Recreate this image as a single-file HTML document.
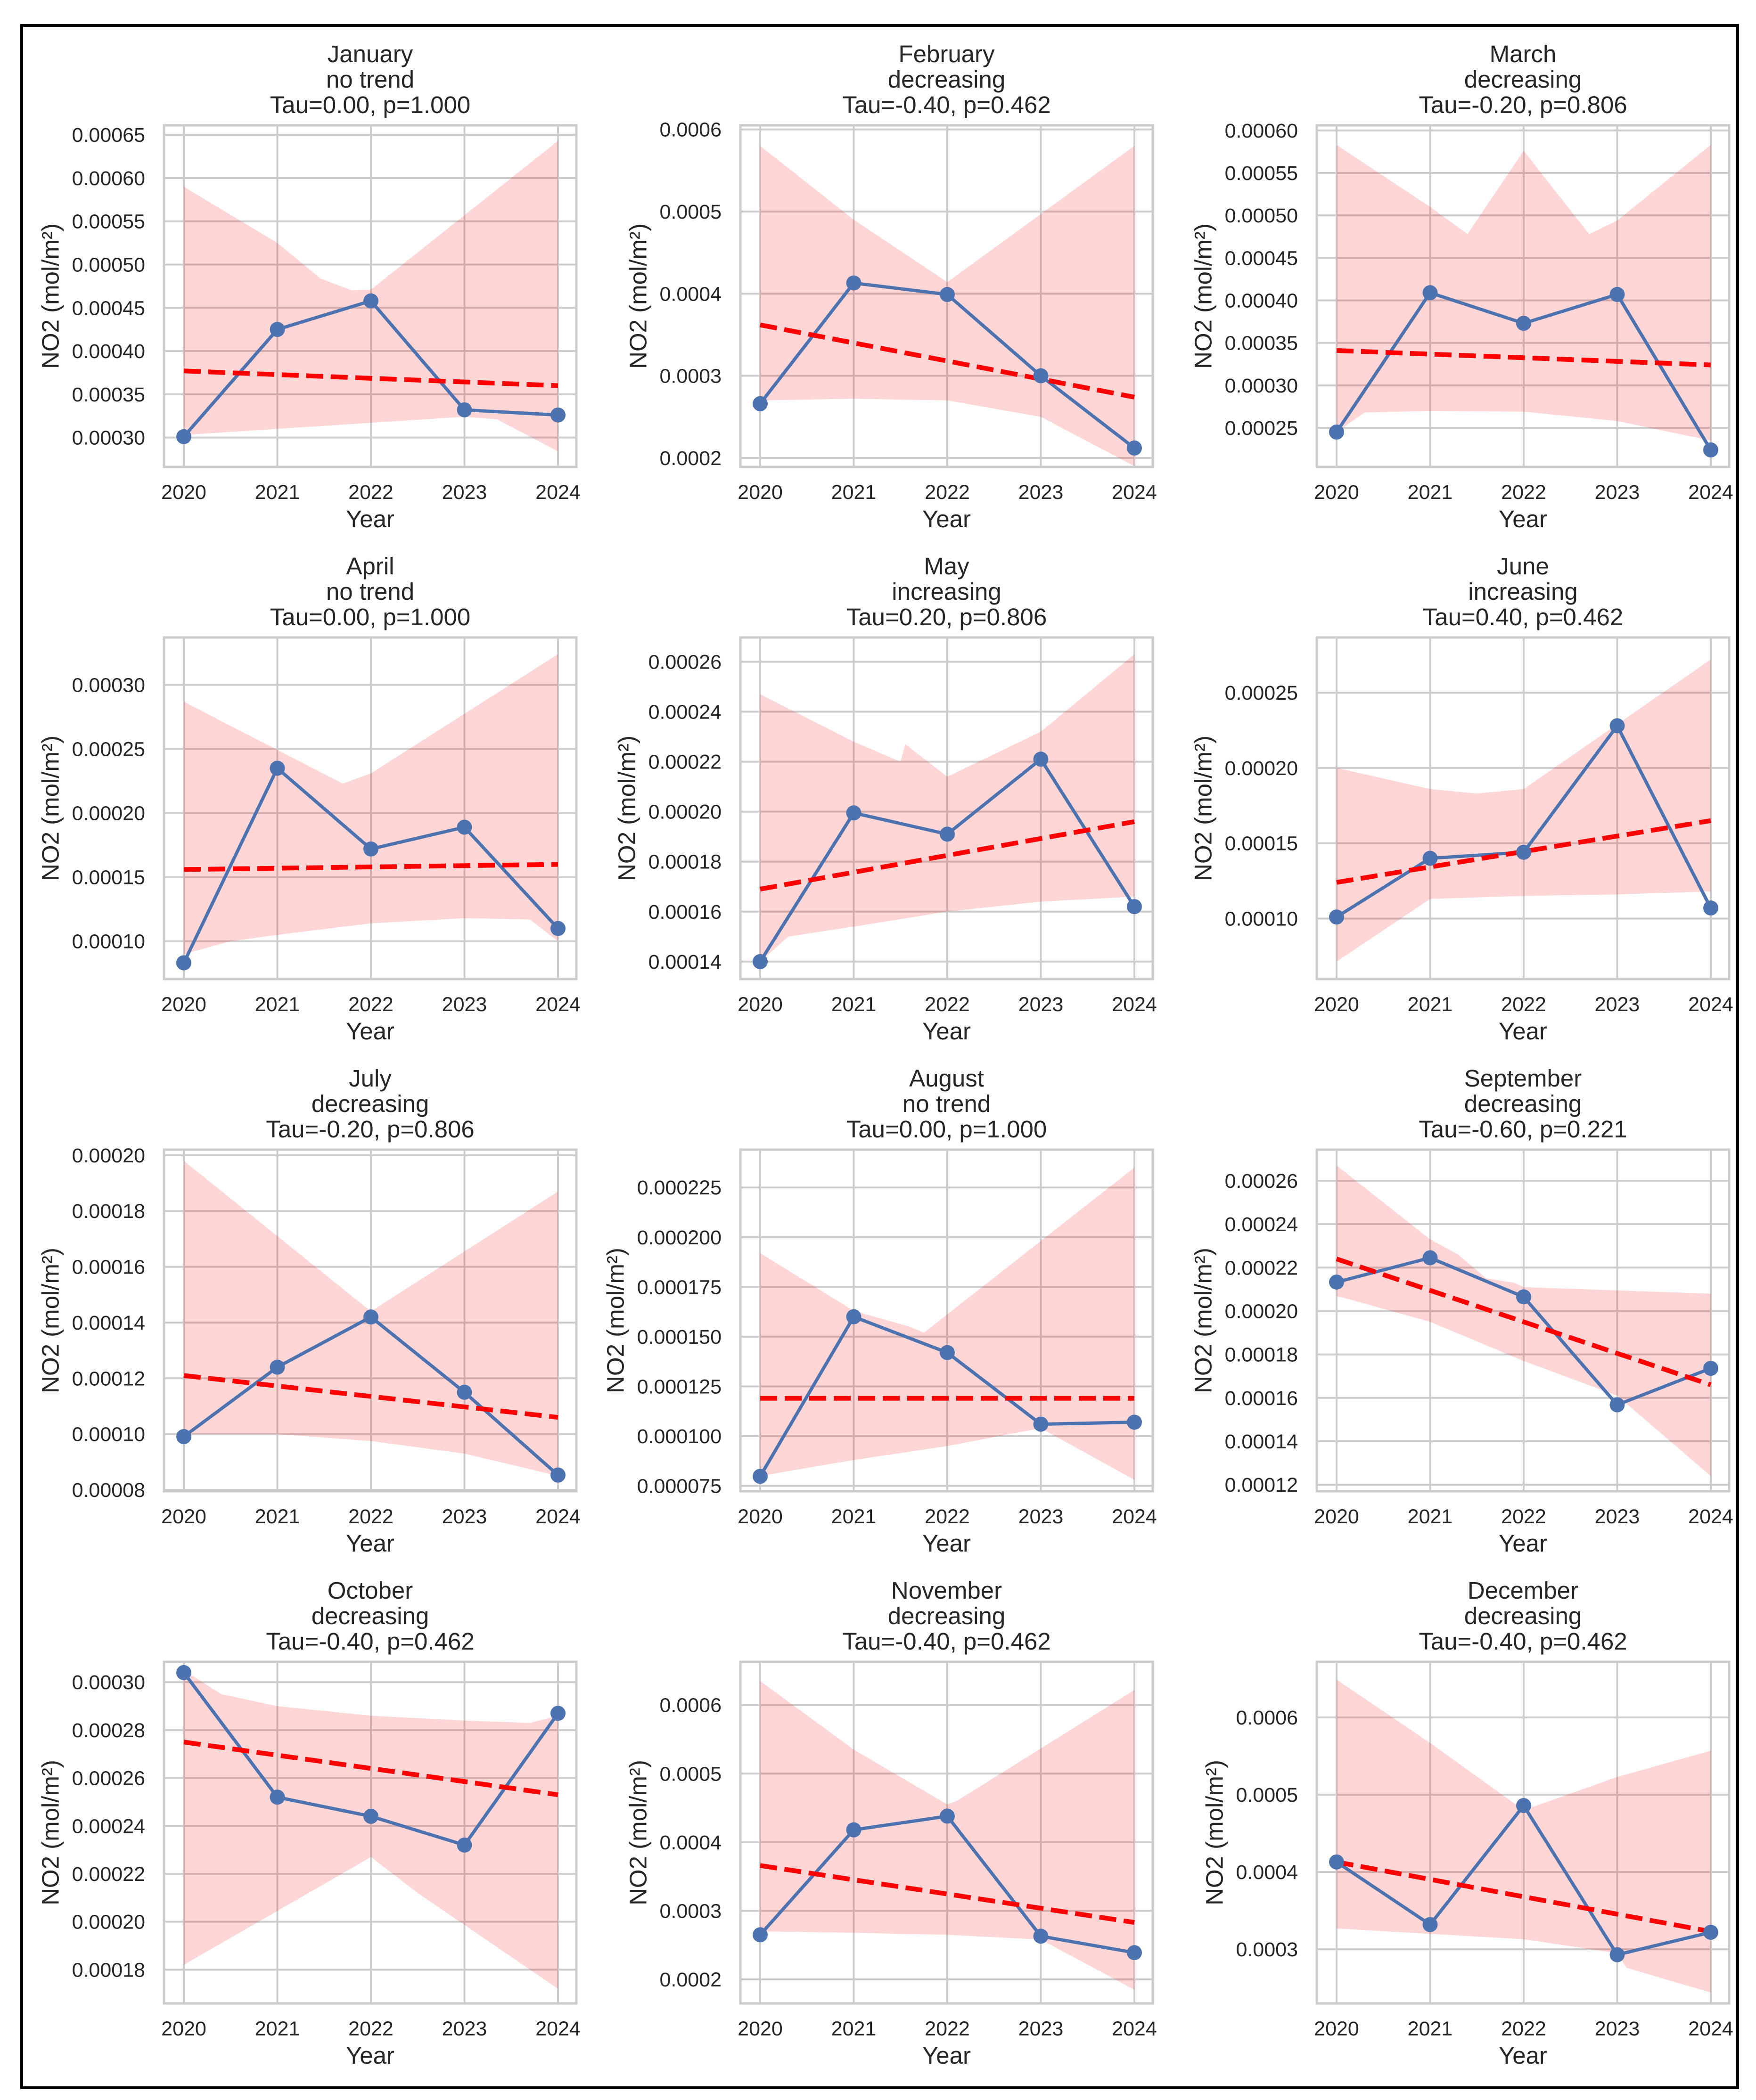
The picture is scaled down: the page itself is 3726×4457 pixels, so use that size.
<!DOCTYPE html>
<html><head><meta charset="utf-8">
<style>
html,body{margin:0;padding:0;background:#fff;}
svg{display:block;font-family:"Liberation Sans",Arial,sans-serif;}
</style></head>
<body>
<svg id="fig" width="3726" height="4457" viewBox="0 0 3726 4457" xmlns="http://www.w3.org/2000/svg">
<rect x="0" y="0" width="3726" height="4457" fill="#fff"/>
<rect x="46" y="54" width="3641" height="4377" fill="none" stroke="#000" stroke-width="6"/>
</svg>
<script>
const years = [2020, 2021, 2022, 2023, 2024];
const months = ["January","February","March","April","May","June","July","August","September","October","November","December"];
const trends = ["no trend","decreasing","decreasing","no trend","increasing","increasing","decreasing","no trend","decreasing","decreasing","decreasing","decreasing"];
const stats = ["Tau=0.00, p=1.000","Tau=-0.40, p=0.462","Tau=-0.20, p=0.806","Tau=0.00, p=1.000","Tau=0.20, p=0.806","Tau=0.40, p=0.462","Tau=-0.20, p=0.806","Tau=0.00, p=1.000","Tau=-0.60, p=0.221","Tau=-0.40, p=0.462","Tau=-0.40, p=0.462","Tau=-0.40, p=0.462"];
const yMin = [0.000266,0.000189,0.000204,0.0000705,0.000133,0.0000598,0.0000795,0.0000723,0.000117,0.0001659,0.000165,0.000230];
const yMax = [0.000661,0.000605,0.000606,0.000337,0.0002697,0.0002866,0.000202,0.000244,0.0002743,0.0003085,0.000663,0.000672];
const yTicks = [
 [0.00030,0.00035,0.00040,0.00045,0.00050,0.00055,0.00060,0.00065],
 [0.0002,0.0003,0.0004,0.0005,0.0006],
 [0.00025,0.00030,0.00035,0.00040,0.00045,0.00050,0.00055,0.00060],
 [0.00010,0.00015,0.00020,0.00025,0.00030],
 [0.00014,0.00016,0.00018,0.00020,0.00022,0.00024,0.00026],
 [0.00010,0.00015,0.00020,0.00025],
 [0.00008,0.00010,0.00012,0.00014,0.00016,0.00018,0.00020],
 [0.000075,0.000100,0.000125,0.000150,0.000175,0.000200,0.000225],
 [0.00012,0.00014,0.00016,0.00018,0.00020,0.00022,0.00024,0.00026],
 [0.00018,0.00020,0.00022,0.00024,0.00026,0.00028,0.00030],
 [0.0002,0.0003,0.0004,0.0005,0.0006],
 [0.0003,0.0004,0.0005,0.0006]
];
const tickDecimals = [5,4,5,5,5,5,5,6,5,5,4,4];
const no2Values = [
 [0.000301,0.000425,0.000458,0.000332,0.000326],
 [0.000266,0.000413,0.000399,0.000300,0.000212],
 [0.000245,0.000409,0.000373,0.000407,0.000224],
 [0.0000832,0.000235,0.000172,0.000189,0.000110],
 [0.000140,0.0001995,0.000191,0.000221,0.000162],
 [0.000101,0.000140,0.000144,0.000228,0.000107],
 [0.0000991,0.000124,0.000142,0.000115,0.0000853],
 [0.0000798,0.000160,0.000142,0.000106,0.000107],
 [0.0002133,0.0002245,0.0002065,0.0001568,0.0001736],
 [0.000304,0.000252,0.000244,0.000232,0.000287],
 [0.000265,0.000418,0.000438,0.000263,0.000239],
 [0.000413,0.000332,0.000486,0.000293,0.000322]
];
const trendStart = [0.000377,0.000362,0.000341,0.000156,0.000169,0.000124,0.000121,0.000119,0.000224,0.000275,0.000366,0.000413];
const trendEnd   = [0.000360,0.000274,0.000324,0.000160,0.000196,0.000165,0.000106,0.000119,0.000166,0.000253,0.000283,0.000323];
const bandUpperX = [
 [2020,2021,2021.46,2021.8,2022,2024],
 [2020,2021,2022,2024],
 [2020,2021,2021.4,2022,2022.7,2023,2024],
 [2020,2020.5,2021.7,2022,2024],
 [2020,2021,2021.5,2021.55,2022,2023,2024],
 [2020,2021,2021.5,2022,2024],
 [2020,2022,2024],
 [2020,2021,2021.6,2021.75,2024],
 [2020,2021,2021.3,2021.6,2021.9,2022,2024],
 [2020,2020.4,2021,2022,2023,2023.7,2024],
 [2020,2021,2022,2022.1,2024],
 [2020,2021,2022,2023,2024]
];
const bandUpper = [
 [0.000590,0.000525,0.000484,0.000470,0.000471,0.000643],
 [0.000580,0.000490,0.000414,0.000580],
 [0.000583,0.000510,0.000478,0.000576,0.000478,0.000494,0.000583],
 [0.000287,0.000268,0.000223,0.000231,0.000324],
 [0.000247,0.000228,0.000220,0.000227,0.000214,0.000232,0.000263],
 [0.000200,0.000186,0.000183,0.000186,0.000272],
 [0.000198,0.000144,0.000187],
 [0.000192,0.000163,0.000155,0.000152,0.000235],
 [0.000267,0.000233,0.000226,0.000215,0.000213,0.000211,0.000208],
 [0.000305,0.000295,0.000290,0.000286,0.000284,0.000283,0.000286],
 [0.000635,0.000535,0.000455,0.000460,0.000622],
 [0.000649,0.000567,0.000480,0.000523,0.000557]
];
const bandLowerX = [
 [2020,2022,2023,2023.35,2024],
 [2020,2021,2022,2023,2024],
 [2020,2020.3,2021,2022,2023,2024],
 [2020,2020.5,2021,2022,2023,2023.7,2024],
 [2020,2020.3,2021,2022,2023,2024],
 [2020,2021,2022,2023,2024],
 [2020,2021,2022,2023,2024],
 [2020,2021,2022,2023,2024],
 [2020,2021,2022,2023,2024],
 [2020,2022,2022.5,2024],
 [2020,2021,2022,2023,2024],
 [2020,2021,2022,2023,2023.1,2024]
];
const bandLower = [
 [0.000303,0.000317,0.000324,0.000321,0.000284],
 [0.000270,0.000272,0.000270,0.000250,0.000190],
 [0.000245,0.000268,0.000270,0.000269,0.000258,0.000235],
 [0.000090,0.000100,0.000105,0.000114,0.000118,0.000117,0.000100],
 [0.000140,0.000150,0.000154,0.000160,0.000164,0.000166],
 [0.0000714,0.000113,0.000115,0.000116,0.000118],
 [0.000100,0.000100,0.0000975,0.000093,0.000085],
 [0.000080,0.000088,0.000095,0.000104,0.000078],
 [0.000207,0.000195,0.000177,0.000161,0.000124],
 [0.000182,0.000227,0.000212,0.000172],
 [0.000270,0.000268,0.000265,0.000258,0.000185],
 [0.000327,0.000320,0.000313,0.000295,0.000276,0.000244]
];

const NS = "http://www.w3.org/2000/svg";
const svg = document.getElementById("fig");
function mk(tag, attrs, parent){
  const e = document.createElementNS(NS, tag);
  for (const k in attrs) e.setAttribute(k, attrs[k]);
  (parent||svg).appendChild(e);
  return e;
}
const X0 = 390, COLSTEP = 1223, YEARW = 198.5, TOP0 = 266, ROWSTEP = 1087, AXH = 725, AXW = 875;

for (let i = 0; i < 12; i++) {
  const c = i % 3, r = Math.floor(i / 3);
  const x2020 = X0 + c * COLSTEP;
  const left = x2020 - 42, top = TOP0 + r * ROWSTEP;
  const xs = yr => x2020 + (yr - 2020) * YEARW;
  const ys = v => top + AXH - (v - yMin[i]) / (yMax[i] - yMin[i]) * AXH;
  const g = mk("g", {});
  
  

  yTicks[i].forEach(t => {
    const l = mk("line", {x1:left, x2:left+AXW, y1:ys(t), y2:ys(t), stroke:"#cccccc", "stroke-width":4}, g);
    
    
  });
  years.forEach(y => {
    const l = mk("line", {x1:xs(y), x2:xs(y), y1:top, y2:top+AXH, stroke:"#cccccc", "stroke-width":4}, g);
    
    
  });

  let pts = [];
  bandUpperX[i].forEach((x, k) => pts.push(xs(x).toFixed(1) + "," + ys(bandUpper[i][k]).toFixed(1)));
  for (let k = bandLowerX[i].length - 1; k >= 0; k--) pts.push(xs(bandLowerX[i][k]).toFixed(1) + "," + ys(bandLower[i][k]).toFixed(1));
  const band = mk("polygon", {points: pts.join(" "), fill:"#ff0000", "fill-opacity":0.16}, g);
  
  

  const sp = mk("rect", {x:left, y:top, width:AXW, height:AXH, fill:"none", stroke:"#cccccc", "stroke-width":5}, g);
  
  

  const lp = years.map((y, k) => xs(y).toFixed(1) + "," + ys(no2Values[i][k]).toFixed(1)).join(" ");
  const pl = mk("polyline", {points: lp, fill:"none", stroke:"#4c72b0", "stroke-width":7, "stroke-linejoin":"round"}, g);
  
  

  const tl = mk("line", {x1:xs(2020), y1:ys(trendStart[i]), x2:xs(2024), y2:ys(trendEnd[i]), stroke:"#ff0000", "stroke-width":10, "stroke-dasharray":"36 16"}, g);
  
  

  years.forEach((y, k) => {
    const m = mk("circle", {cx:xs(y), cy:ys(no2Values[i][k]), r:16, fill:"#4c72b0"}, g);
    
    
  });

  let maxW = 0;
  yTicks[i].forEach(t => {
    const tx = mk("text", {x:left-40, y:ys(t)+15, "text-anchor":"end", "font-size":43, fill:"#262626"}, g);
    tx.textContent = t.toFixed(tickDecimals[i]);
    
    
    maxW = Math.max(maxW, tx.getComputedTextLength ? tx.getComputedTextLength() : 160);
  });
  years.forEach(y => {
    const tx = mk("text", {x:xs(y), y:top+AXH+68, "text-anchor":"middle", "font-size":43, fill:"#262626"}, g);
    tx.textContent = y;
    
    
  });
  const xl = mk("text", {x:left+AXW/2, y:top+AXH+128, "text-anchor":"middle", "font-size":51, fill:"#262626"}, g);
  xl.textContent = "Year";
  
  
  const lx = left - 40 - maxW - 28;
  const yl = mk("text", {x:lx, y:top+AXH/2, "text-anchor":"middle", "font-size":51, fill:"#262626", transform:"rotate(-90 "+lx+" "+(top+AXH/2)+")"}, g);
  yl.textContent = "NO2 (mol/m²)";
  
  

  [months[i], trends[i], stats[i]].forEach((s, k) => {
    const tt = mk("text", {x:left+AXW/2, y:top-134+k*54, "text-anchor":"middle", "font-size":51, fill:"#262626"}, g);
    tt.textContent = s;
    
    
  });
}
</script>
</body></html>
